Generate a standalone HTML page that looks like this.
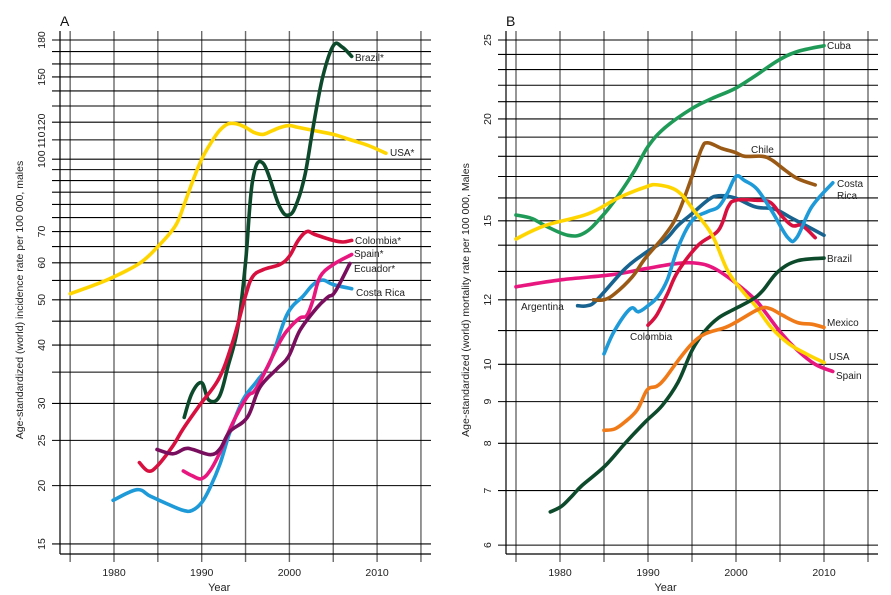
<!DOCTYPE html>
<html><head><meta charset="utf-8"><style>
html,body{margin:0;padding:0;background:#fff;}
svg{display:block;font-family:"Liberation Sans",sans-serif;}
</style></head><body>
<svg id="chart" width="891" height="595" viewBox="0 0 891 595" xmlns="http://www.w3.org/2000/svg">
<rect width="891" height="595" fill="#fff"/>
<g id="pa"></g>
<g id="pb"></g>
</svg>
<script>
// ---------- Panel A data ----------
const aGrid = [15,20,25,30,35,40,45,50,55,60,65,70,75,80,85,90,95,100,110,120,130,140,150,160,170,180];
const aTicks = [15,20,25,30,40,50,60,70,100,110,120,150,180];
const xYears = [1975,1980,1985,1990,1995,2000,2005,2010,2015];
const xTickLabels = [1980,1990,2000,2010];

const aUSAx = [1975,1978,1980,1983,1985,1987,1988,1989,1990,1991,1992,1993,1994,1995,1996,1997,1998,1999,2000,2001,2003,2005,2007,2009,2011];
const aUSAy = [51.5,54,56,60,65,72,80,90,100,108,115,119,119,117,114,113,115,117,118,117,115,113,110,107,103];
const aBRAx = [1988,1988.9,1990,1990.8,1992,1993,1994.1,1995,1995.8,1997,1998.9,2000,2000.9,2001.8,2002.7,2003.8,2005,2006,2007.1];
const aBRAy = [28,31.6,33.2,30.5,31,36,43.5,60,90,98,79,76,81,93,117,150,175,174,166];
const aCOLx = [1982.9,1983.9,1984.9,1986.7,1987.9,1989.8,1992,1993.6,1995,1995.8,1997,1998.9,2000,2001,2002,2002.9,2005,2006.1,2007.1];
const aCOLy = [22.4,21.5,22,24.3,26.5,29.8,34,41,51,56,58,59.5,62,67,70,69,67,66.5,67];
const aESPx = [1987.9,1988.9,1990,1991,1992.1,1993.6,1995.2,1996.3,1998.9,2000,2001.2,2002,2002.7,2003.5,2005,2007.1];
const aESPy = [21.5,21,20.7,21.6,23.6,27.4,31,32.5,40.6,43.5,45.7,46.3,50,56,59.5,62.5];
const aCRIx = [1979.9,1982.6,1984.1,1986,1987.9,1988.9,1990,1991,1992.1,1993.2,1994.7,1996.3,1997.8,1999.7,2001.6,2002.7,2003.8,2005,2007.1];
const aCRIy = [18.6,19.6,19.0,18.3,17.7,17.7,18.4,19.9,22.3,26,30.5,33.5,36.8,46.4,51,53.9,55.1,53.9,52.8];
const aECUx = [1984.9,1986.7,1988.1,1989,1991,1992.1,1993.2,1995.2,1996.6,1998.6,1999.9,2001.2,2003.1,2004.4,2005.2,2006.9];
const aECUy = [23.9,23.4,24.0,23.9,23.3,24,26.1,28,32.4,35.6,37.8,43,48,50.7,52,59.8];

// ---------- Panel B data ----------
const bGrid = [6,7,8,9,10,11,12,13,14,15,16,17,18,19,20,21,22,23,24,25];
const bTicks = [6,7,8,9,10,12,15,20,25];
const bCUBx = [1975,1976.8,1978.3,1980.9,1982.8,1984.8,1986.6,1988.5,1990,1991.9,1995,1997.3,1999.9,2002.2,2004.8,2007,2010];
const bCUBy = [15.25,15.1,14.8,14.4,14.5,15.2,16.1,17.3,18.5,19.5,20.6,21.2,21.8,22.6,23.6,24.2,24.6];
const bUSAx = [1975,1978.3,1983.2,1986.6,1989.7,1991.1,1993.4,1995.3,1997.3,1999.1,2001,2002.2,2004,2006,2008,2010];
const bUSAy = [14.25,14.8,15.3,16.0,16.5,16.6,16.3,15.4,14.4,13.0,12.2,11.8,11.1,10.6,10.3,10.05];
const bESPx = [1975,1980.2,1985.9,1989.7,1993.4,1995.7,1997.6,1999.9,2002.2,2003.3,2005.2,2007,2009,2011];
const bESPy = [12.45,12.7,12.88,13.1,13.3,13.3,13.1,12.6,12.0,11.6,10.9,10.4,10.0,9.8];
const bCHLx = [1983.8,1985,1986.2,1988.2,1989.7,1991.9,1993.4,1995,1996.1,1996.8,1998.4,1999.9,2001,2003,2004.1,2005.6,2007,2009];
const bCHLy = [12.0,12.0,12.2,12.8,13.5,14.4,15.3,17.0,18.4,18.7,18.4,18.2,18.0,18.0,17.8,17.3,16.9,16.6];
const bARGx = [1982,1983.1,1984.2,1987.4,1989.7,1991.9,1993.4,1995,1996.8,1998,1999.9,2002.2,2004.4,2006.4,2010];
const bARGy = [11.8,11.8,12.0,13.1,13.7,14.2,14.8,15.3,15.9,16.1,16.0,15.6,15.5,15.1,14.4];
const bCRIx = [1985,1986.2,1988,1988.9,1990,1991.1,1992.2,1993.4,1995,1996.8,1998,1999,2000,2001,2002.4,2004.1,2005.9,2006.9,2008.6,2011];
const bCRIy = [10.3,11.0,11.7,11.6,11.8,12.1,12.7,13.9,15.0,15.4,15.6,16.2,17.0,16.8,16.4,15.4,14.3,14.3,15.6,16.7];
const bCOLx = [1990,1991,1992.2,1993.4,1995.7,1998,1999.1,2000,2002.2,2003.9,2005.2,2006.4,2007.5,2009];
const bCOLy = [11.17,11.5,12.2,13.0,14.0,14.6,15.6,15.9,15.9,15.8,15.2,14.8,14.8,14.3];
const bBRAx = [1978.9,1980.2,1981.4,1982.5,1985.1,1987.4,1989.7,1991.6,1993.4,1995,1996.5,1998,1999.9,2001.8,2003,2004.8,2007,2010];
const bBRAy = [6.59,6.7,6.9,7.1,7.5,8.0,8.5,8.9,9.5,10.4,11.0,11.4,11.7,12.0,12.3,13.0,13.4,13.5];
const bMEXx = [1985,1986.2,1987.4,1988.8,1989.9,1991,1991.9,1993.4,1995,1996.5,1998.8,2000.2,2002.7,2003.9,2005.2,2007,2008.6,2010];
const bMEXy = [8.3,8.33,8.5,8.8,9.3,9.4,9.6,10.1,10.6,10.9,11.1,11.3,11.7,11.7,11.5,11.25,11.2,11.1];

const NS = "http://www.w3.org/2000/svg";
function mk(parent, tag, attrs, text){
  const e = document.createElementNS(NS, tag);
  for (const k in attrs) e.setAttribute(k, attrs[k]);
  if (text !== undefined) e.textContent = text;
  parent.appendChild(e);
  return e;
}
function smoothPath(P){
  let d = 'M'+P[0][0].toFixed(1)+','+P[0][1].toFixed(1);
  for (let i=0;i<P.length-1;i++){
    const p0=P[Math.max(0,i-1)], p1=P[i], p2=P[i+1], p3=P[Math.min(P.length-1,i+2)];
    const t=0.18;
    const c1=[p1[0]+(p2[0]-p0[0])*t, p1[1]+(p2[1]-p0[1])*t];
    const c2=[p2[0]-(p3[0]-p1[0])*t, p2[1]-(p3[1]-p1[1])*t];
    d+=' C'+c1[0].toFixed(1)+','+c1[1].toFixed(1)+' '+c2[0].toFixed(1)+','+c2[1].toFixed(1)+' '+p2[0].toFixed(1)+','+p2[1].toFixed(1);
  }
  return d;
}

function panel(g, cfg){
  const xS = y => cfg.x1980 + (y-1980)*cfg.pxYr;
  const yS = v => cfg.yTop + (Math.log10(cfg.vTop) - Math.log10(v))*cfg.pxDec;
  xYears.forEach(yr => {
    const l = mk(g,'line',{x1:xS(yr),x2:xS(yr),y1:31,y2:562,stroke:'#6a6a6a','stroke-width':1.4});
    
    
  });
  cfg.grid.forEach(v => {
    const l = mk(g,'line',{x1:cfg.left-8,x2:cfg.right,y1:yS(v),y2:yS(v),stroke:'#000','stroke-width':1.1});
    
    
  });
  const sp1 = mk(g,'line',{x1:cfg.left,x2:cfg.left,y1:31,y2:554,stroke:'#000','stroke-width':1.2});
  
  
  const sp2 = mk(g,'line',{x1:cfg.left,x2:cfg.right,y1:554,y2:554,stroke:'#000','stroke-width':1.2});
  
  
  cfg.ticks.forEach(v => {
    const t = mk(g,'text',{x:0,y:0,'font-size':10.5,'text-anchor':'middle',fill:'#222',transform:`translate(${cfg.left-15},${yS(v)}) rotate(-90)`},String(v));
    
    
  });
  xTickLabels.forEach(v => {
    const t = mk(g,'text',{x:xS(v),y:576,'font-size':10.5,'text-anchor':'middle',fill:'#222'},String(v));
    
    
  });
  const xt = mk(g,'text',{x:xS(1992),y:591,'font-size':11,'text-anchor':'middle',fill:'#222'},'Year');
  
  
  const yt = mk(g,'text',{x:0,y:0,'font-size':10.5,'text-anchor':'middle',fill:'#222',transform:`translate(${cfg.left-37},${cfg.titleY}) rotate(-90)`},cfg.ytitle);
  
  
  const pl = mk(g,'text',{x:cfg.left,y:26,'font-size':14,fill:'#111'},cfg.letter);
  
  
  cfg.series.forEach(s => {
    const P = s.xs.map((yr,i)=> [xS(yr), yS(s.ys[i])]);
    const p = mk(g,'path',{d:smoothPath(P),fill:'none',stroke:s.color,'stroke-width':3.6,'stroke-linejoin':'round','stroke-linecap':'round'});
    
    
  });
  cfg.labels.forEach(l => {
    l.lines.forEach((ln,i) => {
      const t = mk(g,'text',{x:l.x,y:l.y+i*12,'font-size':10,fill:'#222','text-anchor':l.anchor||'start'},ln);
      
      
    });
  });
}

panel(document.getElementById('pa'), {
  x1980:114, pxYr:8.77, yTop:40, vTop:180, pxDec:467, left:60, right:431,
  grid:aGrid, ticks:aTicks, letter:'A', titleY:300,
  ytitle:'Age-standardized (world) incidence rate per 100 000, males',
  series:[
    {name:'usa',color:'#ffd500',xs:aUSAx,ys:aUSAy},
    {name:'brazil',color:'#0d4a2c',xs:aBRAx,ys:aBRAy},
    {name:'colombia',color:'#d7103f',xs:aCOLx,ys:aCOLy},
    {name:'costa-rica',color:'#1e9ad8',xs:aCRIx,ys:aCRIy},
    {name:'spain',color:'#e8177f',xs:aESPx,ys:aESPy},
    {name:'ecuador',color:'#7a0e5e',xs:aECUx,ys:aECUy}
  ],
  labels:[
    {x:355,y:61,lines:['Brazil*']},{x:390,y:156,lines:['USA*']},
    {x:355,y:244,lines:['Colombia*']},{x:354,y:257,lines:['Spain*']},
    {x:354,y:272,lines:['Ecuador*']},{x:356,y:296,lines:['Costa Rica']}
  ]
});

panel(document.getElementById('pb'), {
  x1980:560, pxYr:8.8, yTop:40, vTop:25, pxDec:815, left:506, right:878,
  grid:bGrid, ticks:bTicks, letter:'B', titleY:300,
  ytitle:'Age-standardized (world) mortality rate per 100 000, Males',
  series:[
    {name:'cuba',color:'#1f9a57',xs:bCUBx,ys:bCUBy},
    {name:'spain',color:'#e8177f',xs:bESPx,ys:bESPy},
    {name:'argentina',color:'#17628f',xs:bARGx,ys:bARGy},
    {name:'chile',color:'#9a5a16',xs:bCHLx,ys:bCHLy},
    {name:'colombia',color:'#d7103f',xs:bCOLx,ys:bCOLy},
    {name:'costa-rica',color:'#1e9ad8',xs:bCRIx,ys:bCRIy},
    {name:'usa',color:'#ffd500',xs:bUSAx,ys:bUSAy},
    {name:'brazil',color:'#0d4a2c',xs:bBRAx,ys:bBRAy},
    {name:'mexico',color:'#f07a18',xs:bMEXx,ys:bMEXy}
  ],
  labels:[
    {x:827,y:49,lines:['Cuba']},{x:751,y:153,lines:['Chile']},
    {x:837,y:187,lines:['Costa','Rica']},{x:827,y:262,lines:['Brazil']},
    {x:521,y:310,lines:['Argentina']},{x:827,y:326,lines:['Mexico']},
    {x:630,y:340,lines:['Colombia']},{x:829,y:360,lines:['USA']},
    {x:836,y:379,lines:['Spain']}
  ]
});
</script>
</body></html>
